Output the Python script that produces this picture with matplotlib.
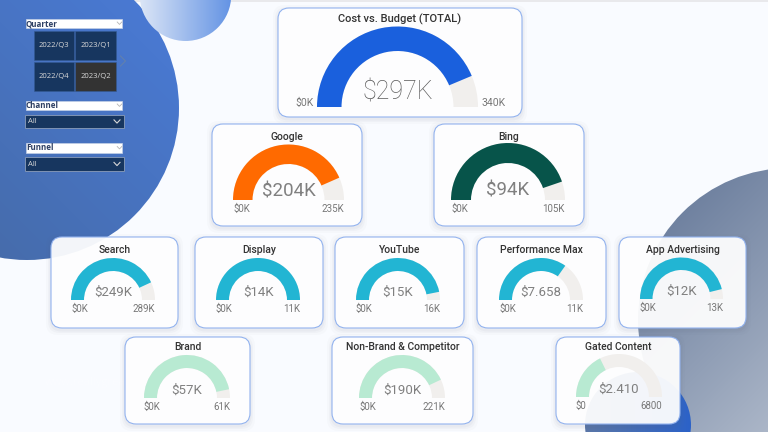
import numpy as np
from matplotlib import pyplot as plt
from matplotlib.colors import LinearSegmentedColormap
import matplotlib.patches as patches

plt.rcParams["font.family"] = ["Roboto", "DejaVu Sans"]

titles = ["Cost vs. Budget (TOTAL)", "Google", "Bing", "Search", "Display", "YouTube",
          "Performance Max", "App Advertising", "Brand", "Non-Brand & Competitor", "Gated Content"]
values = [297, 204, 94, 249, 14, 15, 7.658, 12, 57, 190, 2410]
targets = [340, 235, 105, 289, 11, 16, 11, 13, 61, 221, 6800]
value_labels = ["$297K", "$204K", "$94K", "$249K", "$14K", "$15K", "$7.658", "$12K", "$57K", "$190K", "$2.410"]
min_labels = ["$0K"] * 10 + ["$0"]
max_labels = ["340K", "235K", "105K", "289K", "11K", "16K", "11K", "13K", "61K", "221K", "6800"]

ORANGE = "#ff6a00"
BLUE = "#1a60dd"
GREEN = "#07544a"
CYAN = "#22b5d3"
MINT = "#b8ead2"
REST = "#f1efed"
arc_colors = [BLUE, ORANGE, GREEN, CYAN, CYAN, CYAN, CYAN, CYAN, MINT, MINT, MINT]

# card box: left, right, top, bottom in image pixels
cards = [(278, 522, 8, 117), (212, 362, 124, 226), (434, 584, 124, 226),
         (51, 178, 237, 328), (195, 323, 237, 328), (335, 464, 237, 328),
         (477, 606, 237, 328), (619, 746, 237, 328),
         (125, 250, 337, 424), (332, 473, 337, 424), (556, 680, 337, 424)]
# gauge: center x, baseline y, outer radius, inner radius
gauges = [(397.5, 107, 80.5, 56), (288.5, 200, 55.5, 36), (508, 200, 57, 37),
          (113, 300, 42, 29), (258, 300, 42, 29), (398, 300, 42, 29),
          (541, 300, 42, 29), (681.5, 299, 41.5, 29),
          (187, 398, 43, 30), (402, 398, 43, 30), (619, 397, 43, 30)]
# font sizes: title, value, axis labels
sizes = [(8, 18, 7.5), (7.5, 13.5, 7), (7.5, 13.5, 7)] + [(7.5, 9.5, 7)] * 8
title_offsets = [11.5, 12.5, 12.5] + [13] * 5 + [10.5] * 3

W, H = 768, 432


def Y(y):
    return H - y


def grad_circle(ax, cx, cy, r, c1, c2, direction, zorder):
    # gradient fill clipped to a circle, direction is in image pixels
    n = 128
    xs, ys = np.meshgrid(np.linspace(-1, 1, n), np.linspace(-1, 1, n))
    g = (xs * direction[0] + ys * direction[1]) / (abs(direction[0]) + abs(direction[1]))
    g = (g + 1) / 2
    cmap = LinearSegmentedColormap.from_list("g", [c1, c2])
    im = ax.imshow(g, cmap=cmap, extent=(cx - r, cx + r, Y(cy + r), Y(cy - r)),
                   origin="upper", aspect="auto", zorder=zorder, interpolation="bilinear")
    circle = patches.Circle((cx, Y(cy)), r, transform=ax.transData)
    im.set_clip_path(circle)


def round_box(ax, left, right, top, bottom, pad, **kw):
    box = patches.FancyBboxPatch((left + pad, Y(bottom) + pad), right - left - 2 * pad, bottom - top - 2 * pad,
                                 boxstyle="round,pad=%s,rounding_size=%s" % (pad, pad), **kw)
    ax.add_patch(box)


def chevron(ax, x, y, w, h, color, lw=0.8):
    ax.plot([x - w, x, x + w], [Y(y - h), Y(y + h), Y(y - h)], color=color, lw=lw, zorder=6)


fig = plt.figure(figsize=(7.68, 4.32), dpi=100)
ax = fig.add_axes([0, 0, 1, 1])
ax.set_facecolor("#f9fbff")

ax.add_patch(patches.Rectangle((0, Y(2)), W, 2, fc="#e9e9ec", ec="none", zorder=1))

grad_circle(ax, 27, 108, 152, "#45689f", "#4a7cdb", (1, -1), 2)
grad_circle(ax, 185.5, -4.7, 45.7, "#dbe5f6", "#6393e4", (1, 0), 3)
grad_circle(ax, 790, 320, 152, "#5f7395", "#d4dae3", (1, 1), 2)
grad_circle(ax, 638, 425, 53, "#5a77a8", "#2c62c8", (1, 0), 3)

ax.text(45, Y(382), "www.reallygreatsite.com", color="white", alpha=0.3, fontsize=8,
        va="center", zorder=3, family="Open Sans")

# slicers
for label, top in [("Quarter", 18.5), ("Channel", 100.5), ("Funnel", 143)]:
    ax.add_patch(patches.Rectangle((25.5, Y(top + 9.5)), 96.5, 9.5, fc="white", ec="#c4d0e6", lw=0.5, zorder=5))
    ax.text(26, Y(top + 5), label, fontsize=5.8, fontweight="bold", color="#2d3f63", va="center",
            zorder=6, family="Open Sans")
    chevron(ax, 119.5, top + 4.7, 2.3, 1.2, "#b5b5b5", 0.6)

tile_labels = ["2022/Q3", "2023/Q1", "2022/Q4", "2023/Q2"]
tile_boxes = [(33.5, 31), (75, 31), (33.5, 62), (75, 62)]
for label, (x, y) in zip(tile_labels, tile_boxes):
    fc = "#333333" if label == "2023/Q2" else "#17365f"
    ax.add_patch(patches.Rectangle((x, Y(y + 28.5)), 40.5, 28.5, fc=fc, ec="#345a93", lw=0.4, zorder=5))
    ax.text(x + 20.5, Y(y + 14.5), label, fontsize=5.5, color="#d8d8d8", ha="center", va="center",
            zorder=6, family="Open Sans")
ax.plot([120.5, 125.5, 120.5], [Y(56), Y(61), Y(66)], color="#5f7fb0", lw=0.9, zorder=6)

for top in [114.5, 157]:
    ax.add_patch(patches.Rectangle((24.5, Y(top + 13.5)), 99, 13.5, fc="#17365f", ec="#7f94b5", lw=0.7, zorder=5))
    ax.text(27.5, Y(top + 7), "All", fontsize=5.5, color="#d8d8d8", va="center", zorder=6, family="Open Sans")
    chevron(ax, 117, top + 7, 3, 1.6, "#d8d8d8", 0.8)

# cards and gauges
for i, title in enumerate(titles):
    left, right, top, bottom = cards[i]
    for k, a in [(5, 0.025), (3, 0.035), (1.5, 0.045)]:
        round_box(ax, left - k, right + k, top + 2 - k, bottom + 2 + k, 12, fc="#5a6478", ec="none", alpha=a, zorder=7)
    round_box(ax, left, right, top, bottom, 11, fc="white", ec="none", alpha=0.94, zorder=8)
    round_box(ax, left, right, top, bottom, 11, fc="none", ec="#93b3ef", lw=0.8, zorder=9)

    cx, base, r_out, r_in = gauges[i]
    title_size, value_size, label_size = sizes[i]
    share = min(values[i] / targets[i], 1.0)
    split = 180 - 180 * share
    center = (cx, Y(base))
    ax.add_patch(patches.Wedge(center, r_out, 0, 180, width=r_out - r_in, fc=REST, ec="none", zorder=10))
    ax.add_patch(patches.Wedge(center, r_out, split, 180, width=r_out - r_in, fc=arc_colors[i], ec="none", zorder=11))

    mid = (left + right) / 2
    ax.text(mid, Y(top + title_offsets[i]), title, fontsize=title_size, fontweight="medium",
            color="#333333", ha="center", va="center", zorder=12)
    ax.text(cx, Y(base - r_in * 0.25), value_labels[i], fontsize=value_size,
            fontweight="light" if i == 0 else "normal",
            color="#5a5a5a" if i == 0 else "#808080", ha="center", va="center", zorder=12)
    if i == 0:
        ax.text(cx - r_out - 3, Y(base - 4), min_labels[i], fontsize=label_size, color="#777777",
                ha="right", va="center", zorder=12)
        ax.text(cx + r_out + 3, Y(base - 4), max_labels[i], fontsize=label_size, color="#777777",
                ha="left", va="center", zorder=12)
    else:
        ax.text(cx - r_out, Y(base + 9), min_labels[i], fontsize=label_size, color="#777777",
                ha="left", va="center", zorder=12)
        ax.text(cx + r_out, Y(base + 9), max_labels[i], fontsize=label_size, color="#777777",
                ha="right", va="center", zorder=12)

ax.set_xlim(0, W)
ax.set_ylim(0, H)
ax.axis("off")
fig.patch.set_facecolor("#f9fbff")
fig.savefig("out.png", dpi=100, facecolor=fig.get_facecolor())
